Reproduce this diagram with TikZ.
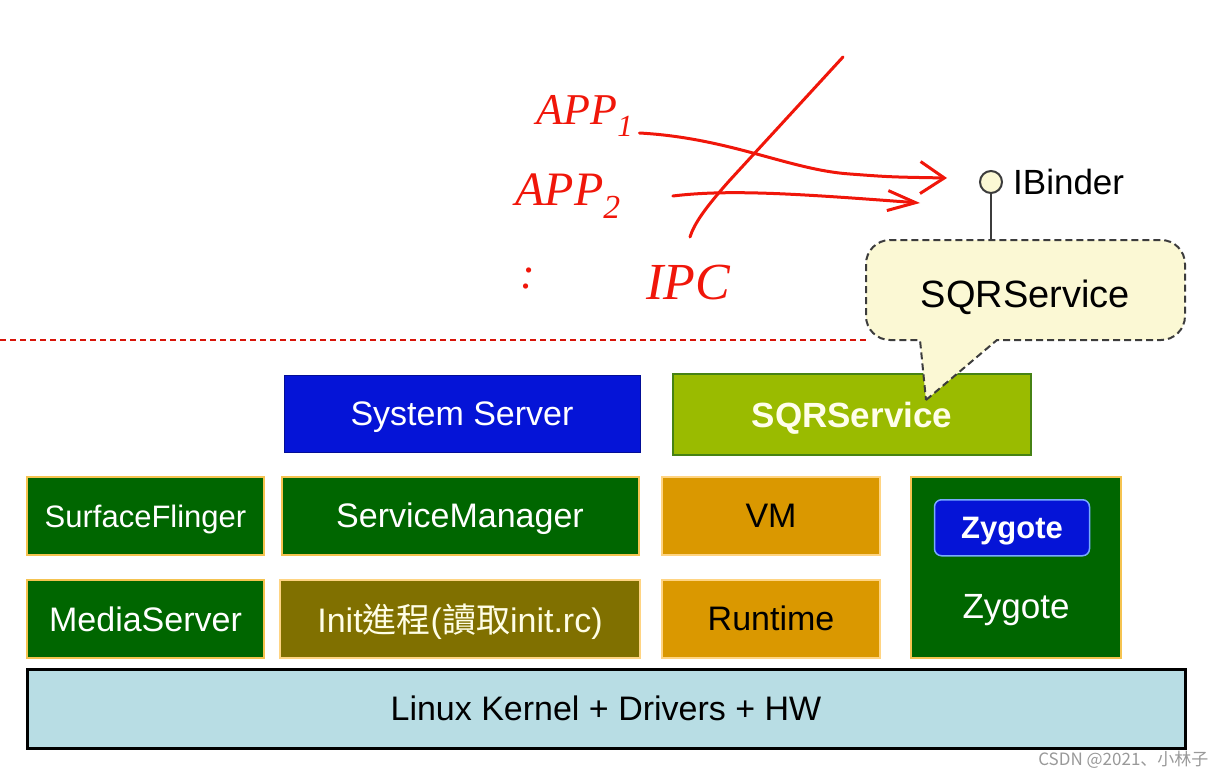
\documentclass[tikz,border=0pt]{standalone}
\usepackage{fontspec}
\setmainfont{Liberation Sans}
\newfontfamily\cjktc{Noto Sans CJK TC}
\newfontfamily\cjksc{Noto Sans CJK SC}
\newfontfamily\handfont{Liberation Serif}
\usetikzlibrary{arrows.meta, positioning}
\definecolor{sysblue}{RGB}{5,20,215}
\definecolor{sqrgreen}{RGB}{154,187,0}
\definecolor{sqrline}{RGB}{70,130,20}
\definecolor{deepgreen}{RGB}{0,102,0}
\definecolor{goldline}{RGB}{245,195,80}
\definecolor{initolive}{RGB}{128,112,0}
\definecolor{amber}{RGB}{218,152,0}
\definecolor{paleline}{RGB}{255,212,130}
\definecolor{kernelblue}{RGB}{184,221,228}
\definecolor{bubblefill}{RGB}{251,248,212}
\definecolor{bubbleline}{RGB}{60,60,60}
\definecolor{penred}{RGB}{240,22,10}
\definecolor{tagline}{RGB}{120,170,255}
\tikzset{%
>={Straight Barb[length=24pt,width=32pt]},
% Specifications for style of the stack boxes:
base/.style = {minimum height=78pt, inner sep=0pt, text depth=0pt, text centered, font=\fontsize{34}{40}\selectfont},
greenbox/.style = {base, fill=deepgreen, draw=goldline, line width=2pt, text=white},
olivebox/.style = {base, fill=initolive, draw=paleline, line width=2pt, text=white!90!yellow},
amberbox/.style = {base, fill=amber, draw=paleline, line width=2pt, text=black},
bluebox/.style = {base, fill=sysblue, draw=sysblue!70!black, line width=1pt, text=white},
sqrbox/.style = {base, fill=sqrgreen, draw=sqrline, line width=2pt, text=white!92!yellow, font=\fontsize{35}{40}\selectfont\bfseries},
kernelbox/.style = {base, fill=kernelblue, draw=black, line width=3pt, text=black},
zygtag/.style = {base, minimum width=155pt, minimum height=56pt, fill=sysblue, draw=tagline, line width=1.5pt, rounded corners=7pt, text=white, font=\fontsize{31}{36}\selectfont\bfseries},
bubble/.style = {fill=bubblefill, draw=bubbleline, line width=2pt, dash pattern=on 7pt off 4pt},
sepline/.style = {draw=penred!90!black, line width=1.5pt, dash pattern=on 6pt off 4pt},
pen/.style = {draw=penred, line width=3pt, line cap=round, line join=round},
handtext/.style = {text=penred, inner sep=2pt, font=\handfont\itshape\fontsize{44}{48}\selectfont},
}

\begin{document}
\begin{tikzpicture}[x=1pt, y=-1pt, node distance=23pt]
        \useasboundingbox (0,0) rectangle (1224,779);
        % bottom rows of the stack
        \node (kernel) [kernelbox, minimum width=1158pt, minimum height=79pt] at (606,708.5) {Linux Kernel + Drivers + HW};
        \node (media) [greenbox, minimum width=237pt] at (145.5,619) {MediaServer};
        \node (init) [olivebox, minimum width=360pt] at (460,618.5) {Init{\cjktc 進程}({\cjktc 讀取}init.rc)};
        \node (runtime) [amberbox, minimum width=218pt] at (771,618.5) {Runtime};
        \node (surface) [greenbox, minimum width=237pt, font=\fontsize{31}{36}\selectfont, above=of media] {SurfaceFlinger};
        \node (servmgr) [greenbox, minimum width=357pt, above=of init] {ServiceManager};
        \node (vm) [amberbox, minimum width=218pt, above=of runtime] {VM};
        \node (zygbox) [greenbox, minimum width=210pt, minimum height=181pt] at (1016,567.5) {};
        \node (zygcore) [zygtag, below=23pt of zygbox.north, xshift=-4pt] {Zygote};
        \node (zygname) [above=30pt of zygbox.south, text=white, font=\fontsize{35}{40}\selectfont] {Zygote};
        % top row
        \node (sysserver) [bluebox, minimum width=356pt, minimum height=77pt, above=of servmgr, xshift=2pt] {System Server};
        \node (sqr) [sqrbox, minimum width=358pt, minimum height=81pt] at (852,414.5) {SQRService};

        % callout with the IBinder interface
        \coordinate (sepL) at (0,340);
        \coordinate (bsw) at (866,340);
        \coordinate (bne) at (1185,240);
        \coordinate (tip) at (926,400);
        \draw [sepline] (sepL) -- (bsw);
        \draw [bubble, sharp corners] (tip) -- (997,340) [rounded corners=24pt] -- (bsw -| bne) -- (bne) -- (bne -| bsw) -- (bsw) [sharp corners] -- (920,340) -- cycle;
        \node (bubbletext) [font=\fontsize{38}{42}\selectfont, text depth=0pt] at (1025.5,294) {SQRService};
        \node (ib) [circle, draw=bubbleline, fill=bubblefill, line width=2pt, minimum size=22pt, inner sep=0pt] at (991,182) {};
        \node (ibname) [right=10pt of ib, inner sep=0pt, font=\fontsize{35}{40}\selectfont] {IBinder};
        \draw [bubbleline, line width=2pt] (ib.south) -- (ib.south |- bne);

        % handwritten notes
        \node (app1) [handtext] at (585,116) {APP\textsubscript{1}};
        \node (app2) [handtext, font=\handfont\itshape\fontsize{48}{52}\selectfont] at (568,196) {APP\textsubscript{2}};
        \node (more) [handtext] at (528,278) {:};
        \node (ipc) [handtext, font=\handfont\itshape\fontsize{52}{56}\selectfont] at (688,283) {IPC};
        \coordinate (tip1) at (947,178);
        \coordinate (tip2) at (920,203);
        \draw [pen, ->] ([shift={(4pt,-17pt)}]app1.east) .. controls (730,138) and (790,170) .. (850,174) .. controls (890,177) .. (tip1);
        \draw [pen, -{Straight Barb[length=28pt,width=20pt]}] ([xshift=50pt]app2.east) .. controls (730,189) and (800,194) .. (tip2);
        \draw [pen] (843,57) -- (730,180) .. controls (705,208) and (694,224) .. (690,237);

        \node (mark) [anchor=east, text=black!40, font=\cjksc\fontsize{17}{20}\selectfont] at (1212,760) {CSDN @2021、小林子};
\end{tikzpicture}
\end{document}
